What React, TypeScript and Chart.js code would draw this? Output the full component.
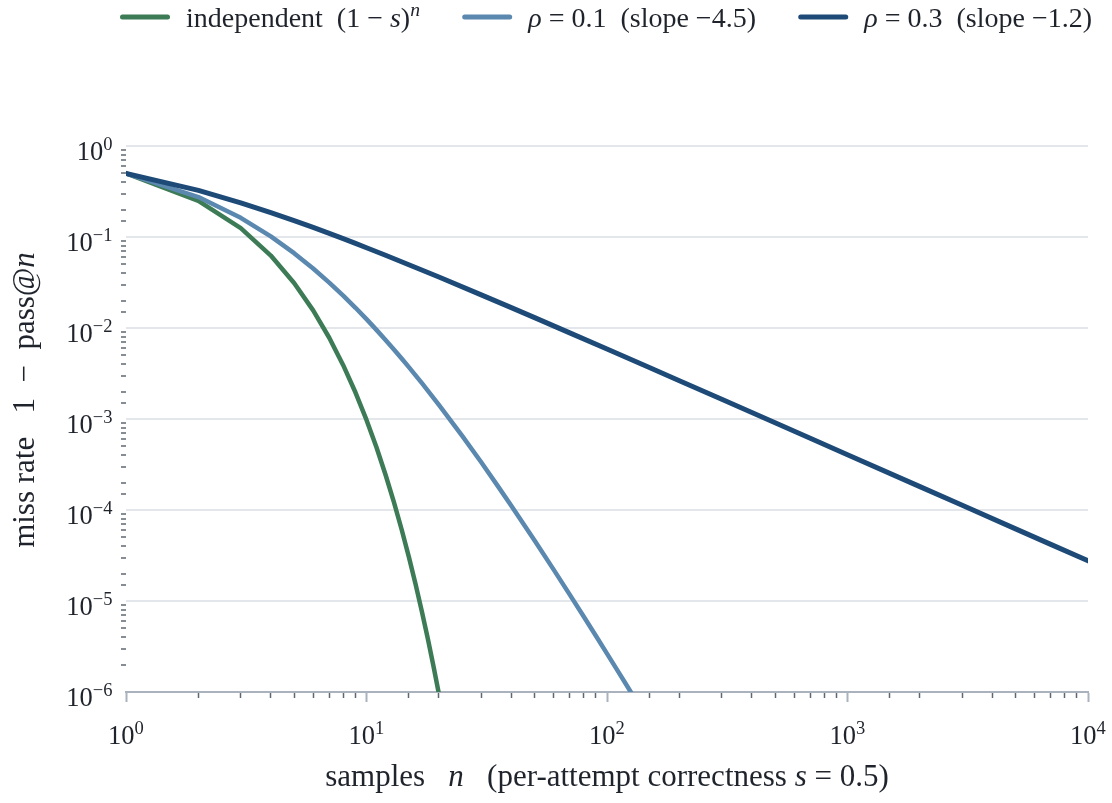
import React, { useEffect, useRef } from 'react';
import { Chart, registerables } from 'chart.js';

Chart.register(...registerables);

// ---- data ----
const seriesLabels = ['independent  (1 − s)ⁿ', 'ρ = 0.1  (slope −4.5)', 'ρ = 0.3  (slope −1.2)'];

const nIndependent = [1, 2, 3, 4, 5, 6, 7, 8, 9, 10, 11, 12, 13, 14, 15, 16, 17, 18, 19, 20];
const missIndependent = [
  0.5, 0.25, 0.125, 0.0625, 0.03125, 0.015625, 0.0078125, 0.00390625, 0.001953125, 0.0009765625,
  0.00048828, 0.00024414, 0.00012207, 6.1035e-5, 3.0518e-5, 1.5259e-5, 7.6294e-6, 3.8147e-6, 1.9073e-6, 9.5367e-7,
];

const nRho01 = [1, 2, 3, 4, 5, 6, 7, 8, 9, 10, 11, 12, 13, 14, 15, 17, 20, 25, 30, 35, 40, 50, 60, 70, 80, 90, 100, 110, 120, 130, 150];
const missRho01 = [
  0.5, 0.275, 0.1625, 0.101563, 0.066406, 0.045061, 0.031543, 0.022671, 0.01667, 0.012503,
  0.009542, 0.007395, 0.00581, 0.004622, 0.003718, 0.002477, 0.001433, 6.53e-4, 3.343e-4, 1.866e-4,
  1.115e-4, 4.62e-5, 2.212e-5, 1.175e-5, 6.75e-6, 4.12e-6, 2.64e-6, 1.761e-6, 1.215e-6, 8.62e-7, 4.65e-7,
];

const nRho03 = [1, 2, 3, 4, 5, 6, 7, 8, 9, 10, 12, 15, 20, 30, 40, 50, 70, 100, 150, 200, 300, 500, 700, 1000, 2000, 3000, 5000, 7000, 10000];
const missRho03 = [
  0.5, 0.325, 0.2375, 0.185547, 0.151367, 0.127286, 0.109466, 0.095783, 0.084969, 0.076222,
  0.062973, 0.04962, 0.03629, 0.02314, 0.016736, 0.012993, 0.008848, 0.005873, 0.003676, 0.002635,
  0.0016456, 9.085e-4, 6.14e-4, 4.053e-4, 1.8065e-4, 1.1259e-4, 6.206e-5, 4.191e-5, 2.765e-5,
];

// tick labels: base "10" with these exponents
const xTickValues = [1, 10, 100, 1000, 10000];
const xTickExponents = ['0', '1', '2', '3', '4'];
const yTickValues = [1e-6, 1e-5, 1e-4, 1e-3, 1e-2, 1e-1, 1];
const yTickExponents = ['−6', '−5', '−4', '−3', '−2', '−1', '0'];

// rich text (runs: [text, style]) for legend and axis titles; style: '' normal, 'i' italic, 'si' italic superscript
type Run = [string, string];
const legendTexts: Run[][] = [
  [['independent  (1 − ', ''], ['s', 'i'], [')', ''], ['n', 'si']],
  [['ρ', 'i'], [' = 0.1  (slope −4.5)', '']],
  [['ρ', 'i'], [' = 0.3  (slope −1.2)', '']],
];
const xTitleRuns: Run[] = [['samples   ', ''], ['n', 'i'], ['   (per-attempt correctness ', ''], ['s', 'i'], [' = 0.5)', '']];
const yTitleRuns: Run[] = [['miss rate   1  −  pass@', ''], ['n', 'i']];

// ---- styles ----
const FONT = "'Liberation Serif', 'Times New Roman', serif";
const TEXT = '#1f232b';
const GREEN = '#3c7b55';
const LIGHT = '#5b88af';
const DARK = '#1e4a77';
const AXIS = '#a9b2bd';
const GRID = '#e3e6ea';
const MINOR = '#5e6772';
const COLORS = [GREEN, LIGHT, DARK];

const toPoints = (xs: number[], ys: number[]) => xs.map((x, i) => ({ x, y: ys[i] }));

function runFont(size: number, style: string) {
  const s = style.includes('s') ? size * 0.7 : size;
  return `${style.includes('i') ? 'italic ' : ''}${s}px ${FONT}`;
}
function measureRuns(ctx: CanvasRenderingContext2D, runs: Run[], size: number) {
  let w = 0;
  for (const [t, st] of runs) {
    ctx.font = runFont(size, st);
    w += ctx.measureText(t).width;
  }
  return w;
}
function drawRuns(ctx: CanvasRenderingContext2D, runs: Run[], x: number, y: number, size: number) {
  let cx = x;
  ctx.textAlign = 'left';
  ctx.textBaseline = 'alphabetic';
  for (const [t, st] of runs) {
    ctx.font = runFont(size, st);
    ctx.fillText(t, cx, st.includes('s') ? y - size * 0.37 : y);
    cx += ctx.measureText(t).width;
  }
  return cx;
}

const textPlugin = {
  id: 'richText',
  afterDraw(chart: any) {
    const ctx: CanvasRenderingContext2D = chart.ctx;
    const xs = chart.scales.x;
    const ys = chart.scales.y;
    const area = chart.chartArea;
    ctx.save();
    ctx.fillStyle = TEXT;

    // tick labels
    const tickSize = 26.5;
    xTickValues.forEach((v, i) => {
      const runs: Run[] = [['10', ''], [xTickExponents[i], 's']];
      const w = measureRuns(ctx, runs, tickSize);
      drawRuns(ctx, runs, xs.getPixelForValue(v) - w / 2, 743.5, tickSize);
    });
    yTickValues.forEach((v, i) => {
      const runs: Run[] = [['10', ''], [yTickExponents[i], 's']];
      const w = measureRuns(ctx, runs, tickSize);
      drawRuns(ctx, runs, 112.5 - w, ys.getPixelForValue(v) + 14, tickSize);
    });

    // axis titles
    const titleSize = 31;
    const xw = measureRuns(ctx, xTitleRuns, titleSize);
    drawRuns(ctx, xTitleRuns, (area.left + area.right) / 2 - xw / 2, 786, titleSize);
    const yw = measureRuns(ctx, yTitleRuns, titleSize);
    ctx.save();
    ctx.translate(34, 400);
    ctx.rotate(-Math.PI / 2);
    drawRuns(ctx, yTitleRuns, -yw / 2, 0, titleSize);
    ctx.restore();

    // legend: one row spanning from x=120 to x=1092
    const legSize = 28;
    const swatch = 50;
    const swatchGap = 16;
    const widths = legendTexts.map((r) => measureRuns(ctx, r, legSize));
    const natural = widths.reduce((a, w) => a + swatch + swatchGap + w, 0);
    const gap = Math.max(12, (1092 - 120 - natural) / (legendTexts.length - 1));
    let x0 = 120;
    legendTexts.forEach((runs, i) => {
      ctx.strokeStyle = COLORS[i];
      ctx.lineWidth = 5;
      ctx.lineCap = 'round';
      ctx.beginPath();
      ctx.moveTo(x0 + 2.5, 17);
      ctx.lineTo(x0 + swatch - 2.5, 17);
      ctx.stroke();
      ctx.fillStyle = TEXT;
      const end = drawRuns(ctx, runs, x0 + swatch + swatchGap, 26.5, legSize);
      x0 = end + gap;
    });
    ctx.restore();
  },
};

export default function App() {
  const canvasRef = useRef<HTMLCanvasElement | null>(null);

  useEffect(() => {
    const canvas = canvasRef.current;
    if (!canvas) return;
    const chart = new Chart(canvas, {
      type: 'line',
      data: {
        datasets: [
          { label: seriesLabels[0], data: toPoints(nIndependent, missIndependent), borderColor: GREEN, backgroundColor: GREEN, borderWidth: 4.5, order: 3 },
          { label: seriesLabels[1], data: toPoints(nRho01, missRho01), borderColor: LIGHT, backgroundColor: LIGHT, borderWidth: 4.5, order: 2 },
          { label: seriesLabels[2], data: toPoints(nRho03, missRho03), borderColor: DARK, backgroundColor: DARK, borderWidth: 5, order: 1 },
        ].map((d) => ({
          ...d,
          pointRadius: 0,
          pointHoverRadius: 0,
          tension: 0,
          fill: false,
          clip: 0,
          borderCapStyle: 'round' as const,
          borderJoinStyle: 'round' as const,
        })),
      },
      options: {
        animation: false,
        responsive: false,
        events: [],
        layout: { padding: 0 },
        plugins: {
          legend: { display: false },
          tooltip: { enabled: false },
        },
        scales: {
          x: {
            type: 'logarithmic',
            position: 'bottom',
            min: 1,
            max: 10000,
            afterFit: (s: any) => {
              s.height = 111;
              s.paddingRight = 24;
            },
            border: { display: true, color: AXIS, width: 2 },
            grid: {
              drawOnChartArea: false,
              drawTicks: true,
              tickLength: 10,
              tickColor: (c: any) => (c.tick && c.tick.major ? AXIS : MINOR),
              tickWidth: (c: any) => (c.tick && c.tick.major ? 2 : 1.5),
              tickBorderDash: (c: any) => (c.tick && c.tick.major ? [] : [5, 30]),
            },
            ticks: { display: false, autoSkip: false },
          },
          y: {
            type: 'logarithmic',
            min: 1e-6,
            max: 1,
            afterFit: (s: any) => {
              s.width = 126;
              s.paddingTop = 146;
            },
            border: { display: false },
            grid: {
              drawOnChartArea: true,
              drawTicks: true,
              tickLength: 5,
              lineWidth: 2,
              color: (c: any) => (c.tick && c.tick.major ? GRID : 'rgba(0,0,0,0)'),
              tickColor: (c: any) => (c.tick && c.tick.major ? 'rgba(0,0,0,0)' : MINOR),
              tickWidth: 1.5,
            },
            ticks: { display: false, autoSkip: false },
          },
        },
      },
      plugins: [textPlugin],
    } as any);
    return () => chart.destroy();
  }, []);

  return (
    <div style={{ position: 'fixed', left: 0, top: 0, width: 1112, height: 803, background: '#ffffff' }}>
      <canvas ref={canvasRef} width={1112} height={803} style={{ display: 'block' }} />
    </div>
  );
}
